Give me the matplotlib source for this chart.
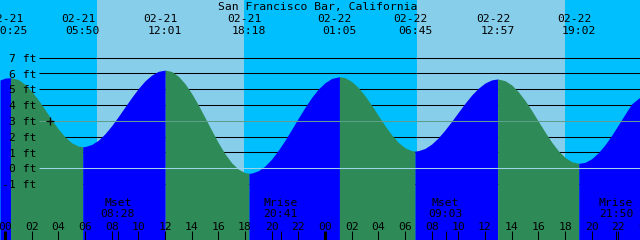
import matplotlib
matplotlib.use("Agg")
import matplotlib.pyplot as plt

# station and tide events
title = "San Francisco Bar, California"
tide_dates = ["02-21", "02-21", "02-21", "02-21", "02-22", "02-22", "02-22", "02-22"]
tide_clock = ["00:25", "05:50", "12:01", "18:18", "01:05", "06:45", "12:57", "19:02"]

# moon events
moon_events = ["Mset", "Mrise", "Mset", "Mrise"]
moon_dates = ["02-21", "02-21", "02-22", "02-22"]
moon_clock = ["08:28", "20:41", "09:03", "21:50"]

# daylight
sunrise_dates = ["02-21", "02-22"]
sunrise_clock = ["06:53", "06:54"]
sunset_dates = ["02-21", "02-22"]
sunset_clock = ["17:56", "17:59"]

# tide height (hours since 02-21 00:00, feet)
curve_hours = [-0.375, 0, 0.417, 1, 1.5, 2, 2.5, 3, 3.5, 4, 4.5, 5, 5.5,
               5.833, 6, 6.5, 7, 7.5, 8, 8.5, 9, 9.5, 10, 10.5, 11, 11.5,
               12.017, 12.5, 13, 13.5, 14, 14.5, 15, 15.5, 16, 16.5, 17, 17.5,
               18, 18.3, 18.5, 19, 19.5, 20, 20.5, 21, 21.5, 22, 22.5, 23,
               23.5, 24, 24.5, 25.083, 25.5, 26, 26.5, 27, 27.5, 28, 28.5,
               29, 29.5, 30, 30.5, 30.75, 31, 31.5, 32, 32.5, 33, 33.5, 34,
               34.5, 35, 35.5, 36, 36.5, 36.95, 37.5, 38, 38.5, 39, 39.5, 40,
               40.5, 41, 41.5, 42, 42.5, 43.033, 43.5, 44, 44.5, 45, 45.5, 46,
               46.5, 47, 47.625]
curve_ft = [5.58, 5.70, 5.73, 5.61, 5.31, 4.87, 4.32, 3.70, 3.07, 2.48, 1.98,
            1.61, 1.40, 1.36, 1.37, 1.50, 1.77, 2.18, 2.69, 3.27, 3.88, 4.48,
            5.04, 5.53, 5.89, 6.13, 6.21, 6.12, 5.82, 5.35, 4.73, 4.00, 3.20,
            2.39, 1.61, 0.91, 0.34, -0.06, -0.28, -0.32, -0.31, -0.16, 0.14,
            0.58, 1.14, 1.77, 2.46, 3.17, 3.85, 4.48, 5.01, 5.41, 5.68, 5.79,
            5.73, 5.49, 5.10, 4.58, 3.98, 3.33, 2.69, 2.11, 1.63, 1.29, 1.11,
            1.09, 1.11, 1.25, 1.53, 1.93, 2.42, 2.97, 3.54, 4.11, 4.63, 5.06,
            5.39, 5.59, 5.65, 5.54, 5.27, 4.84, 4.29, 3.65, 2.97, 2.29, 1.65,
            1.10, 0.68, 0.41, 0.31, 0.37, 0.60, 0.98, 1.48, 2.08, 2.74, 3.42,
            4.07, 4.50]

ft_levels = [-1, 0, 1, 2, 3, 4, 5, 6, 7]
datum_ft = 0
msl_ft = 3
mark_hour = 3.375
hour_ticks = list(range(0, 49, 2))
hour_labels = ["%02d" % (h % 24) for h in hour_ticks]

NIGHT = "#00bfff"
DAY = "#87ceeb"
FLOOD = "#0000ff"
EBB = "#2e8b57"
FONT = dict(family="DejaVu Sans Mono", fontsize=8.2, color="black")

# pixel calibration of the 640x240 picture
X0, PXH = 5.0, 40.0 / 3.0
Y0, PXF = 168.2, 15.8


def to_hours(date, clock):
    hh, mm = clock.split(":")
    return (24 if date == "02-22" else 0) + int(hh) + int(mm) / 60.0


def ypix(py):
    return (Y0 - py) / PXF


def xpix(px):
    return (px - X0) / PXH


tide_hours = [to_hours(d, c) for d, c in zip(tide_dates, tide_clock)]
moon_hours = [to_hours(d, c) for d, c in zip(moon_dates, moon_clock)]
rise = [to_hours(d, c) for d, c in zip(sunrise_dates, sunrise_clock)]
sets = [to_hours(d, c) for d, c in zip(sunset_dates, sunset_clock)]

fig = plt.figure(figsize=(6.4, 2.4), dpi=100)
ax = fig.add_axes([0, 0, 1, 1])
x_lo, x_hi = xpix(0), xpix(640)
y_lo, y_hi = ypix(240), ypix(0)
ax.set_xlim(x_lo, x_hi)
ax.set_ylim(y_lo, y_hi)
ax.axis("off")

# night / day background
ax.axvspan(x_lo, x_hi, color=NIGHT, lw=0, zorder=0)
for r, s in zip(rise, sets):
    ax.axvspan(r, s, color=DAY, lw=0, zorder=0.5)

# foot lines (hidden behind the water)
for lev in ft_levels:
    if lev in (datum_ft, msl_ft):
        continue
    ax.hlines(lev, xpix(39), x_hi, color="black", lw=0.75, zorder=1)

# water, flood in blue, ebb in green
bounds = [x_lo] + tide_hours + [x_hi]
for a, b in zip(bounds[:-1], bounds[1:]):
    seg = [(t, h) for t, h in zip(curve_hours, curve_ft)
           if a - 0.01 <= t <= b + 0.01]
    ts = [p[0] for p in seg]
    hs = [p[1] for p in seg]
    col = FLOOD if hs[-1] > hs[0] else EBB
    ax.fill_between(ts, hs, y_lo - 1, color=col, lw=0, zorder=2)

ax.hlines(msl_ft, xpix(39), x_hi, color="#5f9e8c", lw=0.75, zorder=3)
ax.hlines(datum_ft, xpix(39), x_hi, color="#9fd3ea", lw=0.75, zorder=3)
ax.plot([mark_hour], [msl_ft], marker="+", color="black", ms=5.5, mew=0.9,
        zorder=4)

# foot labels
for lev in ft_levels:
    py = Y0 - PXF * lev
    ax.text(xpix(36.5), ypix(py + 4.3), "%d ft" % lev, ha="right",
            va="baseline", zorder=5, **FONT)

# header
fig.text(318 / 640, 1 - 10 / 240, title, ha="center", va="baseline", **FONT)
for t, d, c in zip(tide_hours, tide_dates, tide_clock):
    ax.text(t - 0.34, ypix(22), d, ha="center", va="baseline", zorder=5, **FONT)
    ax.text(t, ypix(33.5), c, ha="center", va="baseline", zorder=5, **FONT)

# hour axis at the bottom
for t, lab in zip(hour_ticks, hour_labels):
    ax.text(t, ypix(229.5), lab, ha="center", va="baseline", zorder=5, **FONT)
    lw = 2.2 if t % 24 == 0 else 0.75
    ax.vlines(t, y_lo, ypix(231), color="black", lw=lw, zorder=5)

# moon rise / set
for t, ev, c in zip(moon_hours, moon_events, moon_clock):
    ax.vlines(t, y_lo, ypix(231), color="black", lw=0.75, zorder=5)
    ax.text(t, ypix(206), ev, ha="center", va="baseline", zorder=5, **FONT)
    ax.text(t, ypix(217.3), c, ha="center", va="baseline", zorder=5, **FONT)

fig.savefig("out.png", dpi=100)
